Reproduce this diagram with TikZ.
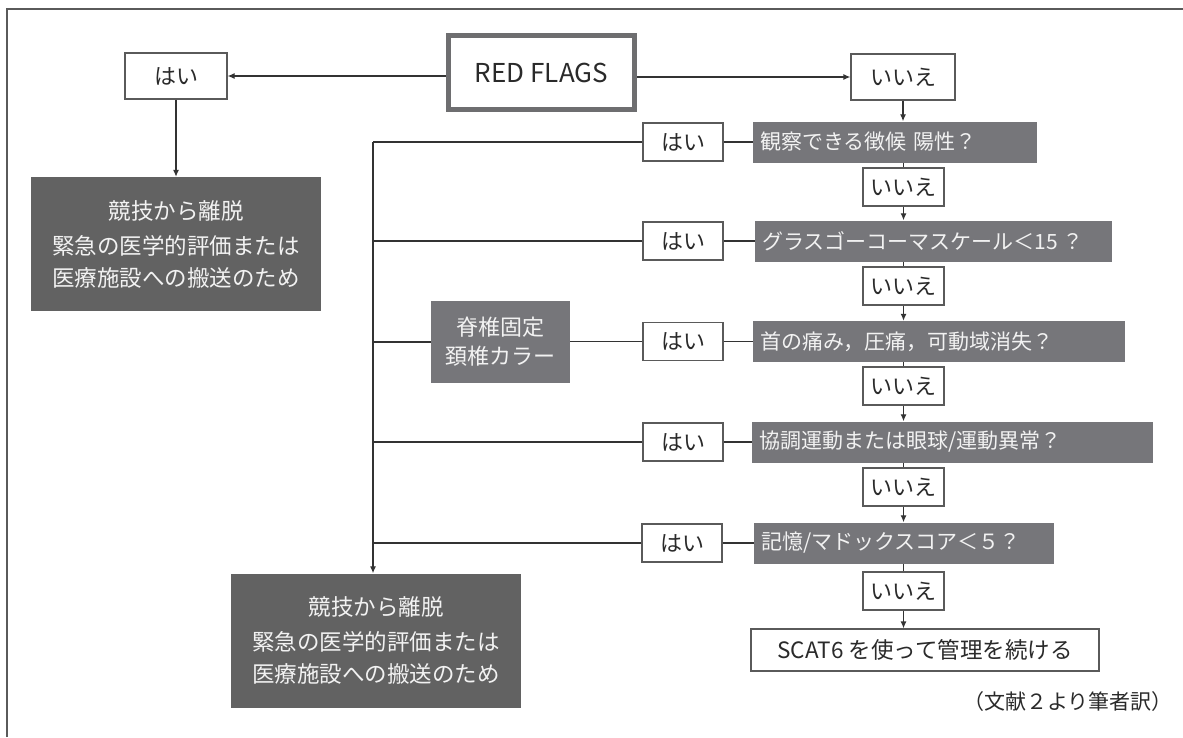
\documentclass[tikz,border=0pt]{standalone}
\usepackage{fontspec}
\setmainfont{Noto Sans CJK JP}
\usetikzlibrary{arrows.meta}
\definecolor{linec}{HTML}{333333}
\definecolor{boxline}{HTML}{5A5A5A}
\definecolor{exitfill}{HTML}{626262}
\definecolor{qfill}{HTML}{76767A}
\definecolor{rfline}{HTML}{6E6E70}
\definecolor{lighttext}{HTML}{F2F2F2}
\definecolor{darktext}{HTML}{2A2A2A}
\tikzset{
  every node/.style={inner sep=0pt, font=\fontsize{22}{26}\selectfont},
  wbox/.style={draw=boxline, line width=1.2pt, fill=white, text=darktext, minimum height=38pt},
  haibox/.style={wbox, minimum width=80pt},
  iiebox/.style={wbox, minimum width=81pt},
  qbox/.style={fill=qfill, text=lighttext, minimum height=41pt, anchor=west, align=left, inner xsep=7pt, font=\fontsize{21}{25}\selectfont},
  exitbox/.style={fill=exitfill, text=lighttext, minimum width=290pt, minimum height=134pt, align=center, font=\fontsize{22.5}{32}\selectfont},
  spinebox/.style={fill=qfill, text=lighttext, minimum width=139pt, minimum height=82pt, align=center, font=\fontsize{22}{29}\selectfont},
  conn/.style={draw=linec, line width=1.2pt},
  arr/.style={conn, -{Latex[length=7pt,width=6pt]}},
}
\begin{document}
\begin{tikzpicture}[x=1pt,y=-1pt]
\useasboundingbox (0,0) rectangle (1183,737);
% frame
\draw[draw=boxline, line width=1.2pt] (7,737) -- (7,9) -- (1183,9);

% top row
\node[wbox, minimum width=102pt, minimum height=46pt] (hai0) at (176,76) {はい};
\node[draw=rfline, line width=5pt, fill=white, text=darktext, minimum width=186pt, minimum height=74pt, font=\fontsize{26}{30}\selectfont] (rf) at (541.5,72.5) {RED FLAGS};
\node[wbox, minimum width=104pt, minimum height=46pt] (iie0) at (903,77) {いいえ};

\node[exitbox] (exit1) at (176,244) {競技から離脱\\[3pt]緊急の医学的評価または\\医療施設への搬送のため};
\node[exitbox] (exit2) at (376,640.5) {競技から離脱\\[3pt]緊急の医学的評価または\\医療施設への搬送のため};

% questions
\node[qbox, text width=270pt] (q1) at (753,142) {観察できる徴候 陽性？};
\node[qbox, text width=343pt] (q2) at (755,241) {グラスゴーコーマスケール＜15\hspace{4pt}？};
\node[qbox, text width=358pt] (q3) at (753,341.5) {首の痛み，圧痛，可動域消失？};
\node[qbox, text width=387pt] (q4) at (752,442) {協調運動または眼球/運動異常？};
\node[qbox, text width=286pt] (q5) at (754,543) {記憶/マドックスコア＜５？};

% yes boxes
\node[haibox] (hai1) at (683,142) {はい};
\node[haibox] (hai2) at (683,241) {はい};
\node[haibox] (hai3) at (683,341.5) {はい};
\node[haibox] (hai4) at (683,442) {はい};
\node[haibox] (hai5) at (682,543) {はい};

% no boxes
\node[iiebox] (iie1) at (903.5,187) {いいえ};
\node[iiebox] (iie2) at (903.5,286) {いいえ};
\node[iiebox] (iie3) at (903.5,386) {いいえ};
\node[iiebox] (iie4) at (903.5,487) {いいえ};
\node[iiebox] (iie5) at (903.5,591) {いいえ};

\node[spinebox] (spine) at (500.5,342) {脊椎固定\\頚椎カラー};

\node[wbox, minimum width=348pt, minimum height=42pt, font=\fontsize{22.5}{26}\selectfont] (scat) at (925,650) {SCAT6 を使って管理を続ける};

\node[text=darktext, font=\fontsize{21}{25}\selectfont] (cap) at (1068,702) {（文献２より筆者訳）};

% connectors top
\draw[arr] (rf.west |- hai0.east) -- (hai0.east);
\draw[arr] (rf.east |- iie0.west) -- (iie0.west);
\draw[arr] (hai0.south) -- (hai0.south |- exit1.north);

% bus
\coordinate (bt) at (373,142);
\draw[conn] (hai1.west) -- (bt);
\draw[arr] (bt) -- (bt |- exit2.north);
\draw[conn] (hai2.west) -- (hai2.west -| bt);
\draw[conn] (spine.west) -- (spine.west -| bt);
\draw[conn] (hai3.west) -- (hai3.west -| spine.east);
\draw[conn] (hai4.west) -- (hai4.west -| bt);
\draw[conn] (hai5.west) -- (hai5.west -| bt);

% yes to questions
\draw[conn] (hai1.east) -- (q1.west);
\draw[conn] (hai2.east) -- (q2.west);
\draw[conn] (hai3.east) -- (q3.west);
\draw[conn] (hai4.east) -- (q4.west);
\draw[conn] (hai5.east) -- (q5.west);

% vertical flow
\draw[arr] (iie0.south) -- (iie0.south |- q1.north);
\draw[conn] (iie1.north |- q1.south) -- (iie1.north);
\draw[arr] (iie1.south) -- (iie1.south |- q2.north);
\draw[conn] (iie2.north |- q2.south) -- (iie2.north);
\draw[arr] (iie2.south) -- (iie2.south |- q3.north);
\draw[conn] (iie3.north |- q3.south) -- (iie3.north);
\draw[arr] (iie3.south) -- (iie3.south |- q4.north);
\draw[conn] (iie4.north |- q4.south) -- (iie4.north);
\draw[arr] (iie4.south) -- (iie4.south |- q5.north);
\draw[conn] (iie5.north |- q5.south) -- (iie5.north);
\draw[arr] (iie5.south) -- (iie5.south |- scat.north);
\end{tikzpicture}
\end{document}
